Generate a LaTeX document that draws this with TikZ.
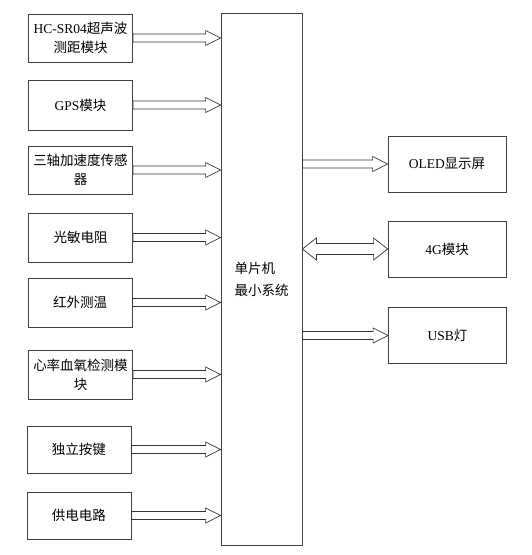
\documentclass[tikz,border=0pt]{standalone}
\usepackage{fontspec}
\setmainfont{Liberation Serif}
\newfontfamily\zhfont{Noto Sans CJK SC}
\usetikzlibrary{calc,positioning}
\newcommand\zh[1]{{\zhfont #1}}
\newcommand\ShaftW{4pt}
\newcommand\HeadW{7.5pt}
\newcommand\HeadL{15pt}
\tikzset{
  modbox/.style={
    draw = black!75,
    line width = 0.8pt,
    minimum width = 104,
    minimum height = 48,
    align = center,
    inner sep = 1pt,
    font = \fontsize{13.5}{19}\selectfont
  },
  outbox/.style={
    modbox,
    minimum width = 118,
    minimum height = 56
  },
  mcubox/.style={
    modbox,
    align = left,
    minimum width = 81,
    minimum height = 532,
    font = \fontsize{13.5}{22}\selectfont
  },
  hollow/.style={
    draw = black!80,
    line width = 0.7pt,
    fill = white,
    line join = miter
  }
}
% hollow arrow from #1 to #2 (same height)
\newcommand\blockarrow[2]{%
  \draw[hollow] let \p1=(#1), \p2=(#2) in
    (\x1,\y1+\ShaftW) -- (\x2-\HeadL,\y1+\ShaftW) -- (\x2-\HeadL,\y1+\HeadW) -- (\x2,\y1)
    -- (\x2-\HeadL,\y1-\HeadW) -- (\x2-\HeadL,\y1-\ShaftW) -- (\x1,\y1-\ShaftW) -- cycle;}
% hollow arrow with two heads
\newcommand\dblockarrow[2]{%
  \draw[hollow] let \p1=(#1), \p2=(#2) in
    (\x1,\y1) -- (\x1+14pt,\y1+11pt) -- (\x1+14pt,\y1+5.5pt) -- (\x2-14pt,\y1+5.5pt)
    -- (\x2-14pt,\y1+11pt) -- (\x2,\y1) -- (\x2-14pt,\y1-11pt) -- (\x2-14pt,\y1-5.5pt)
    -- (\x1+14pt,\y1-5.5pt) -- (\x1+14pt,\y1-11pt) -- cycle;}

\begin{document}
\begin{tikzpicture}[x=1pt,y=-1pt]
    \useasboundingbox (0,0) rectangle (532,555);

    % controller
    \node[mcubox] (mcu) at (261.5,279) {\zh{单片机}\\\zh{最小系统}};

    % inputs
    \node[modbox] (sonar) at (80.5,38) {HC-SR04\zh{超声波}\\\zh{测距模块}};
    \node[modbox, minimum height=50] (gps) at (80.5,105) {GPS\zh{模块}};
    \node[modbox] (accel) at (80.5,170) {\zh{三轴加速度传感}\\\zh{器}};
    \node[modbox, minimum height=49] (ldr) at (80.5,237.5) {\zh{光敏电阻}};
    \node[modbox, minimum height=49] (irtemp) at (80,302.5) {\zh{红外测温}};
    \node[modbox, minimum height=49] (spo) at (80.5,374.5) {\zh{心率血氧检测模}\\\zh{块}};
    \node[modbox, minimum height=47] (keys) at (79,449.5) {\zh{独立按键}};
    \node[modbox, minimum height=47] (power) at (79,515.5) {\zh{供电电路}};

    % outputs
    \node[outbox] (oled) at (447,164) {OLED\zh{显示屏}};
    \node[outbox] (lte) at (447,249) {4G\zh{模块}};
    \node[outbox] (usb) at (447.5,335.5) {USB\zh{灯}};

    \foreach \m in {sonar,gps,accel,ldr,irtemp,spo,keys,power}
      \blockarrow{\m.east}{mcu.west |- \m.east};

    \blockarrow{mcu.east |- oled.west}{oled.west};
    \dblockarrow{mcu.east |- lte.west}{lte.west};
    \blockarrow{mcu.east |- usb.west}{usb.west};
\end{tikzpicture}
\end{document}
